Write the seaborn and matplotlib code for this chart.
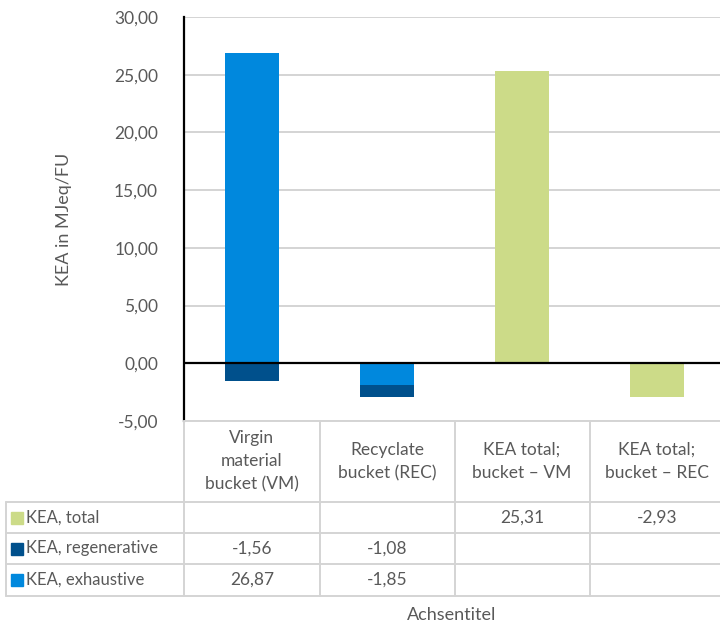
import numpy as np
import pandas as pd
import matplotlib
matplotlib.use("Agg")
import matplotlib.pyplot as plt
import seaborn as sns
from matplotlib.lines import Line2D
from matplotlib.patches import Rectangle

# ---- data ----
categories = ["Virgin\nmaterial\nbucket (VM)", "Recyclate\nbucket (REC)",
              "KEA total;\nbucket – VM", "KEA total;\nbucket – REC"]
series_names = ["KEA, total", "KEA, regenerative", "KEA, exhaustive"]
kea_total = [np.nan, np.nan, 25.31, -2.93]
kea_regen = [-1.56, -1.08, np.nan, np.nan]
kea_exhaust = [26.87, -1.85, np.nan, np.nan]
table_text = {
    "KEA, total": ["", "", "25,31", "-2,93"],
    "KEA, regenerative": ["-1,56", "-1,08", "", ""],
    "KEA, exhaustive": ["26,87", "-1,85", "", ""],
}
yticks = [-5, 0, 5, 10, 15, 20, 25, 30]

colors = {"KEA, total": "#CCDB88", "KEA, regenerative": "#00508C",
          "KEA, exhaustive": "#0088DD"}
txt_col = "#595959"
grid_col = "#D4D4D4"

sns.set_style("white")
plt.rcParams["font.family"] = ["Lato", "DejaVu Sans"]

W, H = 720, 624
fig = plt.figure(figsize=(W / 100, H / 100), dpi=100)
# plot area runs slightly past the right edge of the image
ax_l, ax_r, ax_t, ax_b = 184.5, 724.5, 17, 421
ax = fig.add_axes([ax_l / W, 1 - ax_b / H, (ax_r - ax_l) / W, (ax_b - ax_t) / H])

# Excel-style stacking: positive and negative parts stacked separately
stack_order = ["KEA, exhaustive", "KEA, regenerative", "KEA, total"]
vals = {"KEA, total": kea_total, "KEA, regenerative": kea_regen,
        "KEA, exhaustive": kea_exhaust}
pos = np.zeros(4)
neg = np.zeros(4)
layers = []
for name in stack_order:
    v = np.nan_to_num(np.array(vals[name], dtype=float))
    top = np.where(v >= 0, pos + v, neg + v)
    pos = np.where(v >= 0, pos + v, pos)
    neg = np.where(v < 0, neg + v, neg)
    layers.append((name, top))

# outer extents first, inner segments drawn over them
for name, top in reversed(layers):
    df = pd.DataFrame({"cat": categories, "val": top})
    sns.barplot(data=df, x="cat", y="val", order=categories, color=colors[name],
                width=0.4, saturation=1, linewidth=0, edgecolor=colors[name],
                ax=ax, zorder=2)

ax.set_xlim(-0.5, 3.5)
ax.set_ylim(-5, 30)
ax.set_yticks(yticks)
ax.set_yticklabels([f"{t:.2f}".replace(".", ",") for t in yticks],
                   fontsize=12.5, color=txt_col)
ax.tick_params(axis="y", length=0, pad=19)
ax.set_xticks([])
ax.set_xlabel("")
ax.set_ylabel("KEA in MJeq/FU", fontsize=13, color=txt_col, labelpad=30)
for t in yticks:
    if t != 0:
        ax.axhline(t, color=grid_col, linewidth=1.4, zorder=0.5)
for s in ["top", "right", "bottom"]:
    ax.spines[s].set_visible(False)
ax.spines["left"].set_color("black")
ax.spines["left"].set_linewidth(1.6)
ax.spines["left"].set_zorder(4)
ax.axhline(0, color="black", linewidth=1.6, zorder=3)

# ---- data table below the axes ----
def fx(px):
    return px / W

def fy(py):
    return 1 - py / H

def hline(x0, x1, y):
    fig.add_artist(Line2D([fx(x0), fx(x1)], [fy(y), fy(y)], color=grid_col,
                          linewidth=1.4, transform=fig.transFigure))

def vline(x, y0, y1):
    fig.add_artist(Line2D([fx(x), fx(x)], [fy(y0), fy(y1)], color=grid_col,
                          linewidth=1.4, transform=fig.transFigure))

col_w = (ax_r - ax_l) / 4
col_x = [ax_l + i * col_w for i in range(5)]
tbl_left = 6
row_y = [ax_b, 502, 533, 564, 596]

hline(ax_l, W, row_y[0])
for x in col_x[:-1]:
    vline(x, row_y[0], row_y[-1])
vline(tbl_left, row_y[1], row_y[-1])
for y in row_y[1:]:
    hline(tbl_left, W, y)

for i, c in enumerate(categories):
    fig.text(fx(col_x[i] + col_w / 2), fy((row_y[0] + row_y[1]) / 2), c,
             ha="center", va="center", fontsize=12.5, color=txt_col,
             linespacing=1.55)

for r, name in enumerate(series_names):
    yc = (row_y[r + 1] + row_y[r + 2]) / 2
    fig.add_artist(Rectangle((fx(11), fy(yc + 6)), 12 / W, 12 / H,
                             color=colors[name], transform=fig.transFigure))
    fig.text(fx(26), fy(yc), name, ha="left", va="center", fontsize=12,
             color=txt_col)
    for i, t in enumerate(table_text[name]):
        fig.text(fx(col_x[i] + col_w / 2), fy(yc), t, ha="center", va="center",
                 fontsize=12.5, color=txt_col)

fig.text(fx(452), fy(615), "Achsentitel", ha="center", va="center",
         fontsize=13, color=txt_col)

fig.savefig("out.png", dpi=100)
